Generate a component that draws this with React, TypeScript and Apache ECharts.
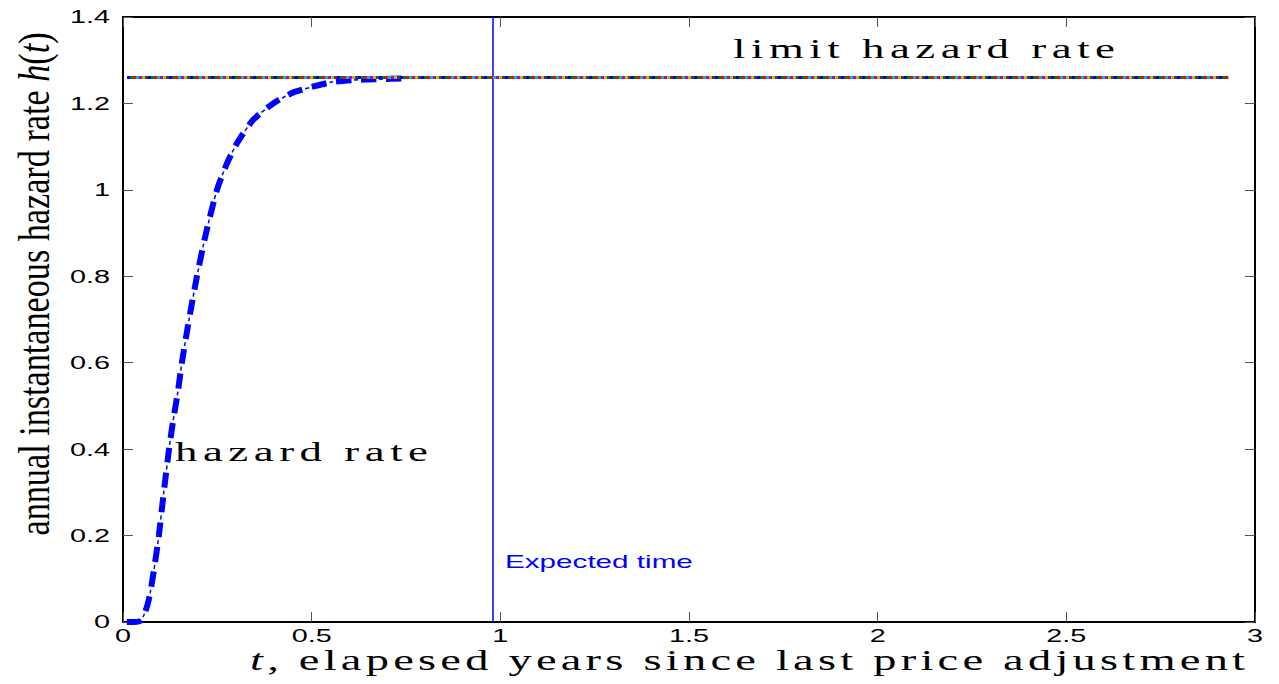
import React, { useEffect, useRef } from "react";
import * as echarts from "echarts";

// ---- data ----
const tValues = [0.01, 0.03, 0.045, 0.055, 0.065, 0.072, 0.082, 0.095, 0.108, 0.122, 0.133, 0.145, 0.156, 0.175, 0.196, 0.22, 0.249, 0.275, 0.302, 0.345, 0.398, 0.45, 0.5, 0.557, 0.61, 0.673, 0.75];
const hazardValues = [0, 0, 0.002, 0.015, 0.04, 0.067, 0.12, 0.2, 0.3, 0.4, 0.467, 0.53, 0.6, 0.7, 0.8, 0.9, 1.0, 1.06, 1.108, 1.162, 1.2, 1.225, 1.238, 1.25, 1.254, 1.256, 1.258];
const limitRate = 1.26;
const limitRange = [0.0106, 2.93];
const expectedTime = 0.978;
const xTickValues = [0, 0.5, 1, 1.5, 2, 2.5, 3];
const xTickLabels = ["0", "0.5", "1", "1.5", "2", "2.5", "3"];
const yTickValues = [0, 0.2, 0.4, 0.6, 0.8, 1, 1.2, 1.4];
const yTickLabels = ["0", "0.2", "0.4", "0.6", "0.8", "1", "1.2", "1.4"];
const limitColors = ["#0000ff", "#008000", "#ff0000", "#00bfbf", "#bf00bf", "#bfbf00", "#404040"];

const ctx2d = (() => {
  const c = document.createElement("canvas");
  return c.getContext("2d")!;
})();
function measure(text: string, font: string): number {
  ctx2d.font = font;
  return ctx2d.measureText(text).width;
}

// letter-spaced, widened serif text built from single characters
function spacedText(text: string, italicIdx: number[], size: number, x0: number, y: number, target: number, glyphScale: number) {
  const fam = "'Liberation Serif'";
  const chars = text.split("");
  const fonts = chars.map((_, i) => (italicIdx.includes(i) ? `italic ${size}px ${fam}` : `${size}px ${fam}`));
  const widths = chars.map((ch, i) => measure(ch, fonts[i]) * glyphScale);
  const total = widths.reduce((a, b) => a + b, 0);
  const gap = (target - total) / (chars.length - 1);
  let x = x0;
  const els: any[] = [];
  chars.forEach((ch, i) => {
    if (ch !== " ") {
      els.push({
        type: "text",
        x,
        y,
        scaleX: glyphScale,
        style: { text: ch, font: fonts[i], fill: "#000", align: "left", verticalAlign: "middle" },
      });
    }
    x += widths[i] + gap;
  });
  return els;
}

export default function App() {
  const ref = useRef<HTMLDivElement>(null);
  useEffect(() => {
    const chart = echarts.init(ref.current!, undefined, { renderer: "svg" });
    const hazardData = tValues.map((t, i) => [t, hazardValues[i]]);
    const limitData = [[limitRange[0], limitRate], [limitRange[1], limitRate]];

    const axisCommon = {
      type: "value" as const,
      splitLine: { show: false },
      axisLabel: { show: false },
      axisLine: { show: true, onZero: false, lineStyle: { color: "#000", width: 2 } },
      axisTick: { show: true, inside: true, length: 10, lineStyle: { color: "#555", width: 1 } },
    };
    const xRange = { min: 0, max: 3, interval: 0.5 };
    const yRange = { min: 0, max: 1.4, interval: 0.2 };

    const limitSeries = limitColors.map((c, i) => ({
      type: "line",
      data: limitData,
      showSymbol: false,
      silent: true,
      z: 5,
      lineStyle: { color: c, width: 3, type: i === 0 ? [3, 18] : [0, 3 * i, 3, 18 - 3 * i], cap: "butt" },
    }));

    chart.setOption({
      animation: false,
      grid: { left: 123, right: 24, top: 17, bottom: 62, containLabel: false },
      xAxis: [
        { ...axisCommon, position: "bottom", ...xRange },
        { ...axisCommon, position: "top", ...xRange },
      ],
      yAxis: [
        { ...axisCommon, position: "left", ...yRange },
        { ...axisCommon, position: "right", ...yRange },
      ],
      series: [
        {
          type: "line",
          data: hazardData,
          showSymbol: false,
          smooth: 0.2,
          z: 3,
          lineStyle: { color: "#0000ff", width: 6, type: [15, 10], cap: "butt" },
        },
        {
          type: "line",
          data: hazardData,
          showSymbol: false,
          smooth: 0.2,
          z: 3,
          lineStyle: { color: "#0000ff", width: 1.5, type: [0, 18, 4, 3], cap: "butt" },
        },
        ...limitSeries,
        {
          type: "line",
          data: [],
          markLine: {
            silent: true,
            symbol: "none",
            label: { show: false },
            lineStyle: { color: "#0000ff", width: 1.5, type: "solid" },
            data: [{ xAxis: expectedTime }],
          },
        },
      ],
    });

    // tick labels, placed through the chart's own scales, widened like the reference
    const tickFont = "18px 'Liberation Sans'";
    const tickScale = 1.6;
    const tickEls: any[] = [];
    xTickValues.forEach((v, i) => {
      const p = chart.convertToPixel({ xAxisIndex: 0, yAxisIndex: 0 }, [v, 0]) as number[];
      tickEls.push({
        type: "text", x: p[0], y: p[1] + 14, scaleX: tickScale,
        style: { text: xTickLabels[i], font: tickFont, fill: "#000", align: "center", verticalAlign: "middle" },
      });
    });
    yTickValues.forEach((v, i) => {
      const p = chart.convertToPixel({ xAxisIndex: 0, yAxisIndex: 0 }, [0, v]) as number[];
      tickEls.push({
        type: "text", x: p[0] - 13, y: p[1], scaleX: tickScale,
        style: { text: yTickLabels[i], font: tickFont, fill: "#000", align: "right", verticalAlign: "middle" },
      });
    });

    const yLabelText = "annual instantaneous hazard rate h(t)";
    const yLabelSize = 44;
    const yScale = 503 / measure(yLabelText, `${yLabelSize}px 'Liberation Serif'`);
    const expScale = 188 / measure("Expected time", "18px 'Liberation Sans'");

    chart.setOption({
      graphic: [
        ...tickEls,
        {
          type: "text",
          x: 34,
          y: 284,
          rotation: Math.PI / 2,
          scaleX: yScale,
          style: {
            text: "annual instantaneous hazard rate {i|h}({i|t})",
            font: `${yLabelSize}px 'Liberation Serif'`,
            fill: "#000",
            align: "center",
            verticalAlign: "middle",
            rich: { i: { fontStyle: "italic", fontSize: yLabelSize, fontFamily: "Liberation Serif" } },
          },
        },
        ...spacedText("t, elapesed years since last price adjustment", [0], 29, 250, 660, 995, 1.6),
        ...spacedText("limit hazard rate", [], 28, 733, 49, 382, 1.6),
        ...spacedText("hazard rate", [], 28, 175, 452, 253, 1.6),
        {
          type: "text",
          x: 505,
          y: 562,
          scaleX: expScale,
          style: { text: "Expected time", font: "18px 'Liberation Sans'", fill: "#0000ff", align: "left", verticalAlign: "middle" },
        },
      ],
    });
    return () => chart.dispose();
  }, []);
  return <div ref={ref} style={{ position: "fixed", left: 0, top: 0, width: 1279, height: 684, background: "#fff" }} />;
}
